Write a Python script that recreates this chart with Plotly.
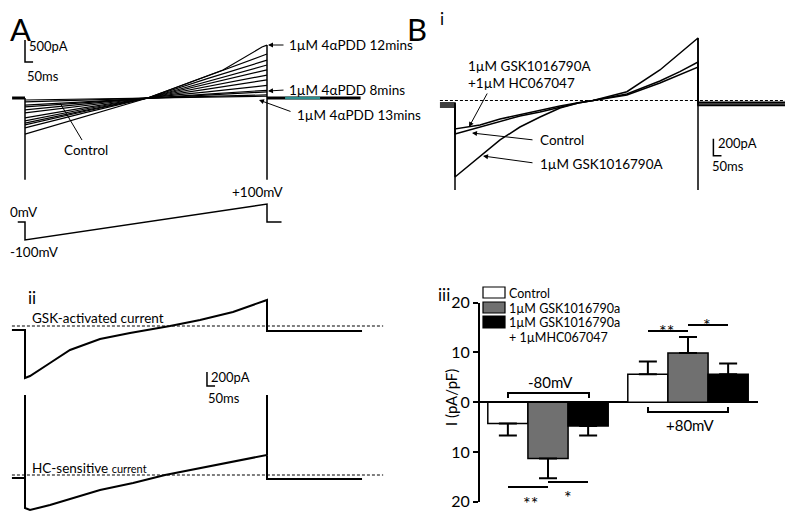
import plotly.graph_objects as go

W, H = 793, 514          # reference picture size
OX, OY = 8, 8            # page body margin offset
FW, FH = W - OX, H - OY  # figure size actually visible
FONT = "Lato"

# ---------------- DATA ----------------
# Panel A: ramp currents (pA) vs time along the ramp (ms)
A_time = [0, 380, 760, 1130, 1500]
A_control = [-90, -45, 0, 35, 70]
A_13min = [-45, -22, 0, 20, 40]
A_sweep3 = [-160, -80, 0, 70, 140]
A_8min = [-200, -100, 0, 90, 175]
A_sweep5 = [-270, -135, 0, 140, 285]
A_sweep6 = [-340, -165, 0, 200, 410]
A_sweep7 = [-450, -215, 0, 260, 520]
A_sweep8 = [-520, -245, 0, 320, 640]
A_sweep9 = [-570, -275, 0, 380, 750]
A_sweep10 = [-610, -295, 0, 440, 860]
A_sweep11 = [-680, -325, 0, 500, 1000]
A_12min_time = [0, 380, 760, 1227, 1469, 1500]
A_12min = [-820, -410, 0, 636, 1158, 1203]
A_hold_time = [-80, 0, None, 1500, 2080]
A_hold = [0, 0, None, 0, 0]
A_teal_time = [1612, 1829]
A_teal = [0, 0]
A_cap_time = [0, 0, None, 1500, 1500]
A_cap = [0, -1860, None, 1203, -1860]

# Voltage protocol (mV)
V_time = [-45, 0, 0, 1500, 1500, 1590]
V_mV = [0, 0, -100, 100, 0, 0]

# Panel B i
B_time = [-93, 0, 0, 154, 278, 401, 525, 648, 760, 852, 1061, 1265, 1388, 1500, 1500, 2090]
B_gsk = [-76, -76, -900, -664, -464, -312, -194, -88, -30, 0, 103, 359, 559, 735, -60, -60]
B_control = [-53, -53, -394, -312, -241, -182, -135, -76, -30, 0, 65, 206, 300, 394, -40, -40]
B_hc = [-29, -29, -335, -288, -218, -165, -118, -65, -25, 0, 76, 229, 340, 453, -20, -20]
B_cap_time = [0, 0, None, 1500, 1500]
B_cap = [-29, -1053, None, 735, -1053]
B_zero_time = [-93, 2090]
B_zero = [0, 0]

# Panel B ii
ii_top_time = [-81, 0, 0, 31, 155, 279, 465, 651, 899, 1085, 1289, 1500, 1500, 2089]
ii_top = [-57, -57, -743, -715, -529, -343, -186, -100, 0, 86, 200, 372, -71, -71]
ii_bot_time = [-81, 0, 0, 0, 31, 155, 465, 670, 868, 1085, 1289, 1500, 1500, 1500, 2089]
ii_bot = [-43, -43, 1144, -472, -500, -429, -214, -114, 0, 100, 186, 286, 1144, -57, -57]
ii_zero_time = [-81, 2220]
ii_zero = [0, 0]

# Panel B iii: bar chart (pA/pF)
bar_voltages = ["-80mV", "+80mV"]
bar_x = [0, 1]
ctrl_mean = [-4.3, 5.6]
ctrl_err = [2.4, 2.6]
gsk_mean = [-11.3, 9.9]
gsk_err = [4.0, 3.2]
hc_mean = [-4.8, 5.6]
hc_err = [1.9, 2.2]
bar_ticks = [-20, -10, 0, 10, 20]
bar_ticktext = ["20", "10", "0", "10", "20"]

# scale bars (ms, pA)
A_scale = [50, 500]
B_scale = [50, 200]
ii_scale = [50, 200]


# ---------------- helpers (positions given in reference pixels) ----------------
def xlin(p0, v0, p1, v1):
    k = (v1 - v0) / (p1 - p0)
    return [v0 + (OX - p0) * k, v0 + (W - p0) * k]


def ylin(p0, v0, p1, v1):
    k = (v1 - v0) / (p1 - p0)
    return [v0 + (H - p0) * k, v0 + (OY - p0) * k]


def px(x):
    return (x - OX) / FW


def py(y):
    return 1 - (y - OY) / FH


def txt(x, y, s, size=14, xanchor="left", yanchor="middle", angle=0):
    return dict(x=px(x), y=py(y), xref="paper", yref="paper", text=s,
                showarrow=False, xanchor=xanchor, yanchor=yanchor, textangle=angle,
                font=dict(size=size, family=FONT, color="black"))


def arrow(x0, y0, x1, y1):
    return dict(x=px(x1), y=py(y1), xref="paper", yref="paper",
                ax=x0 - x1, ay=y0 - y1, axref="pixel", ayref="pixel",
                text="", showarrow=True, arrowhead=2, arrowsize=1,
                arrowwidth=1, arrowcolor="black")


def pline(x0, y0, x1, y1, w=1.5):
    return dict(type="line", xref="paper", yref="paper",
                x0=px(x0), y0=py(y0), x1=px(x1), y1=py(y1),
                line=dict(color="black", width=w))


def ppath(points, w=1.5):
    d = "M " + " L ".join(f"{px(a)},{py(b)}" for a, b in points)
    return dict(type="path", xref="paper", yref="paper", path=d,
                line=dict(color="black", width=w))


fig = go.Figure()


def line(x, y, xa="x", ya="y", w=1.2, color="black", dash=None):
    fig.add_trace(go.Scatter(x=x, y=y, xaxis=xa, yaxis=ya, mode="lines",
                             line=dict(color=color, width=w, dash=dash),
                             showlegend=False, hoverinfo="skip",
                             connectgaps=False))


# Panel A
for s in [A_control, A_13min, A_sweep3, A_8min, A_sweep5, A_sweep6,
          A_sweep7, A_sweep8, A_sweep9, A_sweep10, A_sweep11]:
    line(A_time, s, w=1.2)
line(A_12min_time, A_12min, w=1.2)
line(A_hold_time, A_hold, w=3)
line(A_teal_time, A_teal, w=2.5, color="#2b8c8c")
line(A_cap_time, A_cap, w=1.5)
line(V_time, V_mV, ya="y2", w=1.5)

# Panel B i
line(B_zero_time, B_zero, xa="x2", ya="y3", w=1.1, dash="3px,2px")
for s in [B_control, B_hc, B_gsk]:
    line(B_time, s, xa="x2", ya="y3", w=1.5)
line(B_cap_time, B_cap, xa="x2", ya="y3", w=1.5)

# Panel B ii
line(ii_zero_time, ii_zero, ya="y4", w=1.1, dash="3px,2px")
line(ii_top_time, ii_top, ya="y4", w=2)
line(ii_zero_time, ii_zero, ya="y5", w=1.1, dash="3px,2px")
line(ii_bot_time, ii_bot, ya="y5", w=2)

# Panel B iii bars
for name, mean, err, col in [("Control", ctrl_mean, ctrl_err, "white"),
                             ("1µM GSK1016790a", gsk_mean, gsk_err, "#707070"),
                             ("1µM GSK1016790a + 1µMHC067047", hc_mean, hc_err, "black")]:
    plus = [e if m > 0 else 0 for m, e in zip(mean, err)]
    minus = [e if m < 0 else 0 for m, e in zip(mean, err)]
    fig.add_trace(go.Bar(x=bar_x, y=mean, name=name, xaxis="x3", yaxis="y6",
                         marker=dict(color=col, line=dict(color="black", width=1.5)),
                         error_y=dict(type="data", symmetric=False, array=plus,
                                      arrayminus=minus, color="black",
                                      thickness=2, width=9),
                         showlegend=False, hoverinfo="skip"))

hide = dict(visible=False, showgrid=False, zeroline=False, automargin=False)
fig.update_layout(
    template="none",
    width=FW, height=FH, autosize=False,
    margin=dict(l=0, r=0, t=0, b=0, pad=0, autoexpand=False),
    showlegend=False,
    paper_bgcolor="white", plot_bgcolor="rgba(0,0,0,0)",
    barmode="group", bargap=0.14, bargroupgap=0,
    xaxis=dict(domain=[0, 1], range=xlin(25, 0, 267, 1500), **hide),
    yaxis=dict(domain=[0, 1], range=ylin(98, 0, 76, 500), anchor="x", **hide),
    yaxis2=dict(domain=[0, 1], range=ylin(222, 0, 204, 100), anchor="x", **hide),
    xaxis2=dict(domain=[0, 1], range=xlin(455, 0, 698, 1500), anchor="y3", **hide),
    yaxis3=dict(domain=[0, 1], range=ylin(100.5, 0, 83.5, 200), anchor="x2", **hide),
    yaxis4=dict(domain=[0, 1], range=ylin(326, 0, 312, 200), anchor="x", **hide),
    yaxis5=dict(domain=[0, 1], range=ylin(475, 0, 461, 200), anchor="x", **hide),
    xaxis3=dict(domain=[px(480), px(758)], range=[(480 - 548) / 140, (758 - 548) / 140],
                anchor="y6", showgrid=False, zeroline=False, showticklabels=False,
                ticks="", showline=False, automargin=False),
    yaxis6=dict(domain=[py(501.7), py(302.7)], range=[-20, 20], anchor="x3",
                tickvals=bar_ticks, ticktext=bar_ticktext, ticks="outside",
                ticklen=5, tickwidth=2, tickcolor="black", showline=True,
                linecolor="black", linewidth=2, showgrid=False, automargin=False,
                zeroline=True, zerolinecolor="black", zerolinewidth=2,
                tickfont=dict(size=16, family=FONT, color="black")),
)

shapes = []
# scale bars (data coords)
shapes += [
    dict(type="path", xref="x", yref="y",
         path=f"M 0,{817 + A_scale[1]} L 0,817 L {A_scale[0]},817",
         line=dict(color="black", width=1.5)),
    dict(type="path", xref="x2", yref="y3",
         path=f"M 1595,{-650 + B_scale[1]} L 1595,-650 L {1595 + B_scale[0]},-650",
         line=dict(color="black", width=1.5)),
    dict(type="path", xref="x", yref="y4",
         path=f"M 1128,{-858 + ii_scale[1]} L 1128,-858 L {1128 + ii_scale[0]},-858",
         line=dict(color="black", width=1.5)),
]
# Control pointer line in A
shapes.append(pline(82, 140, 60, 103, 1))
# legend swatches
for (y0, y1), col in zip([(287, 298), (302, 313), (316, 328)], ["white", "#707070", "black"]):
    shapes.append(dict(type="rect", xref="paper", yref="paper",
                       x0=px(483), x1=px(505), y0=py(y1), y1=py(y0),
                       fillcolor=col, line=dict(color="black", width=1.2)))
# brackets
shapes.append(ppath([(508, 398), (508, 393), (589, 393), (589, 398)], 2))
shapes.append(ppath([(648, 407), (648, 412), (728, 412), (728, 407)], 2))
# significance lines
shapes += [pline(648, 331, 688, 331, 2), pline(688, 325, 728, 325, 2),
           pline(508, 487, 548, 487, 2), pline(548, 482, 588, 482, 2)]

ann = [
    txt(8, 8, "A", 31, yanchor="top"), txt(405, 8, "B", 31, yanchor="top"),
    txt(438, 19, "i", 17),
    txt(27, 46, "500pA", 13), txt(25, 76, "50ms", 13),
    txt(287, 45, "1µM 4αPDD 12mins", 13.5), arrow(285, 45, 268, 45),
    txt(287, 90, "1µM 4αPDD 8mins", 13.5), arrow(285, 90, 268, 91),
    txt(295, 115, "1µM 4αPDD 13mins", 13.5), arrow(292, 112, 259, 100),
    txt(62, 150, "Control", 13.5),
    txt(258, 192, "+100mV", 13.5, xanchor="center"),
    txt(8, 212, "0mV", 13.5), txt(8, 252, "-100mV", 13.5),
    txt(466, 66, "1µM GSK1016790A", 13.5), txt(466, 83, "+1µM HC067047", 13.5),
    arrow(488, 92, 469, 127),
    txt(538, 140, "Control", 13.5), arrow(534, 140, 472, 133),
    txt(538, 164, "1µM GSK1016790A", 13.5), arrow(534, 163, 483, 156),
    txt(716, 143, "200pA", 13), txt(710, 166, "50ms", 13),
    txt(26, 297, "ii", 17),
    txt(30, 318, "GSK-activated current", 13.5),
    txt(30, 468, "HC-sensitive <span style='font-size:11px'>current</span>", 13.5),
    txt(209, 377, "200pA", 13), txt(206, 398, "50ms", 13),
    txt(436, 294, "iii", 17),
    txt(507, 293, "Control", 12.5), txt(507, 308, "1µM GSK1016790a", 12.5),
    txt(507, 322, "1µM GSK1016790a", 12.5), txt(507, 337, "+ 1µMHC067047", 12.5),
    txt(451, 398, "I (pA/pF)", 15, xanchor="center", angle=-90),
    txt(550, 382, bar_voltages[0], 15, xanchor="center"),
    txt(690, 425, bar_voltages[1], 15, xanchor="center"),
    txt(666, 331, "**", 18, xanchor="center"), txt(707, 325, "*", 18, xanchor="center"),
    txt(530, 503, "**", 18, xanchor="center"), txt(568, 497, "*", 18, xanchor="center"),
]
fig.update_layout(shapes=shapes, annotations=ann)

fig.write_html("out.html")
